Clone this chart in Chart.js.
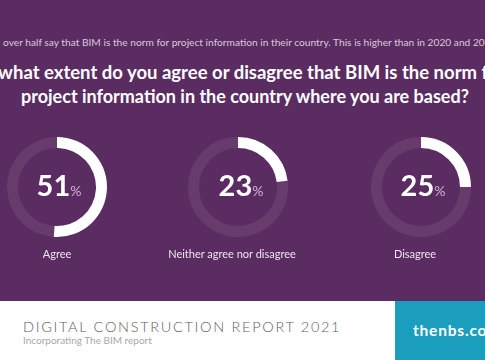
<!DOCTYPE html>
<html>
<head>
<meta charset="utf-8">
<script src="https://cdn.jsdelivr.net/npm/chart.js@4"></script>
<style>
  html, body { margin: 0; padding: 0; }
  body { width: 485px; height: 360px; overflow: hidden; position: relative; font-family: Lato, "Open Sans", sans-serif; background: #fff; }
  #panel { position: absolute; left: 0; top: 0; width: 485px; height: 301px; background: #5b2c61; overflow: hidden; }
  .abs { position: absolute; white-space: nowrap; }
  #sub { left: 3px; top: 36px; font-size: 10.2px; color: #d9c9dd; }
  .title { width: 800px; text-align: center; font-weight: 700; color: #fff; }
  canvas { position: absolute; }
  .pct { width: 120px; text-align: center; color: #fff; font-weight: 700; font-size: 29px; }
  .pct span { font-size: 14px; font-weight: 400; color: #cdb6d3; margin-left: 0; }
  .lbl { width: 200px; text-align: center; color: #efe6f0; font-size: 11px; }
  #foot1 { left: 23px; top: 318px; font-size: 14.5px; font-weight: 300; letter-spacing: 1.7px; color: #5e5e5e; }
  #foot2 { left: 23px; top: 334px; font-size: 10px; color: #a8a8a8; }
  #teal { position: absolute; left: 395px; top: 301px; width: 90px; height: 59px; background: #1b9dbd; overflow: hidden; }
  #site { left: 18px; top: 20px; font-size: 15.5px; font-weight: 700; letter-spacing: 0.8px; color: #fff; }
</style>
</head>
<body>
<div id="panel">
  <div id="sub" class="abs">over half say that BIM is the norm for project information in their country. This is higher than in 2020 and 2019.</div>
  <div class="abs title" style="top:61px; left:-160px; font-size:18.5px">To what extent do you agree or disagree that BIM is the norm for</div>
  <div class="abs title" style="top:85px; left:-155px; font-size:18px">project information in the country where you are based?</div>
</div>
<div id="foot1" class="abs">DIGITAL CONSTRUCTION REPORT 2021</div>
<div id="foot2" class="abs">Incorporating The BIM report</div>
<div id="teal"><div id="site" class="abs">thenbs.com</div></div>

<script>
const categories = ["Agree", "Neither agree nor disagree", "Disagree"];
const values = [51, 23, 25];

// ring centre, percent text centre, label centre (x) for each doughnut
const layout = [
  { cx: 57, cy: 187, px: 59, lx: 57 },
  { cx: 238, cy: 187, px: 241, lx: 232 },
  { cx: 421, cy: 187, px: 423, lx: 415 },
];
const R = 50;

const panel = document.getElementById("panel");

categories.forEach((label, i) => {
  const pos = layout[i];
  const cv = document.createElement("canvas");
  cv.width = R * 2;
  cv.height = R * 2;
  cv.style.left = (pos.cx - R) + "px";
  cv.style.top = (pos.cy - R) + "px";
  panel.appendChild(cv);

  new Chart(cv, {
    type: "doughnut",
    data: {
      labels: [label, ""],
      datasets: [{
        data: [values[i], 100 - values[i]],
        backgroundColor: ["#ffffff", "rgba(255,255,255,0.08)"],
        borderWidth: 0,
      }],
    },
    options: {
      responsive: false,
      animation: false,
      events: [],
      cutout: "78%",
      layout: { padding: 0 },
      plugins: { legend: { display: false }, tooltip: { enabled: false } },
    },
  });

  const pct = document.createElement("div");
  pct.className = "abs pct";
  pct.style.left = (pos.px - 60) + "px";
  pct.style.top = (pos.cy - 20) + "px";
  pct.innerHTML = values[i] + "<span>%</span>";
  panel.appendChild(pct);

  const lb = document.createElement("div");
  lb.className = "abs lbl";
  lb.style.left = (pos.lx - 100) + "px";
  lb.style.top = "247px";
  lb.textContent = label;
  panel.appendChild(lb);
});
</script>
</body>
</html>
